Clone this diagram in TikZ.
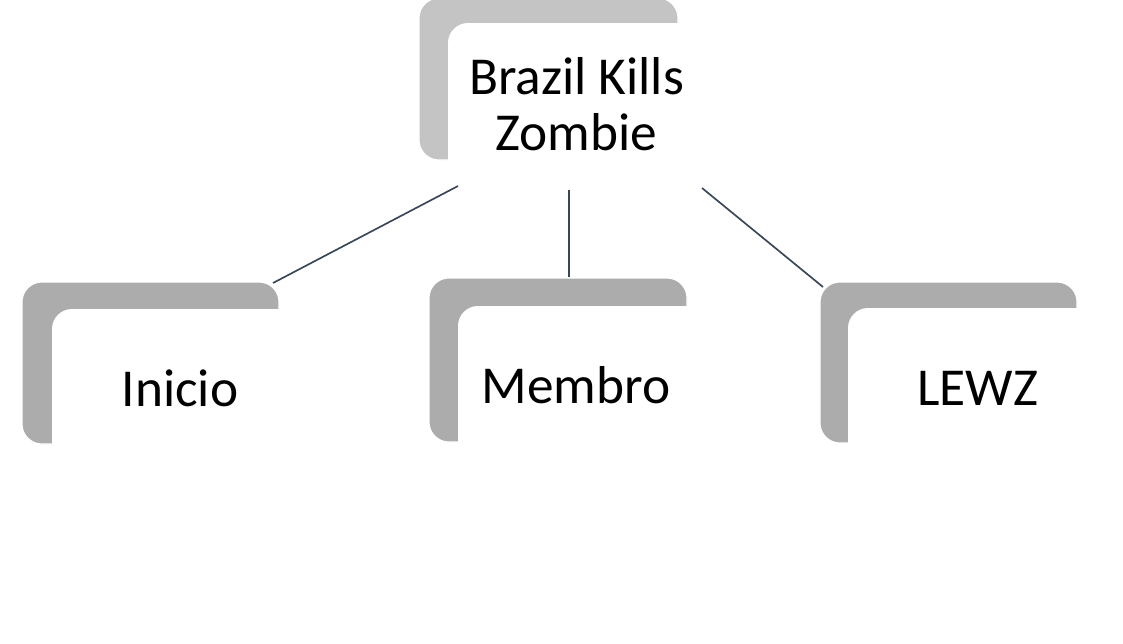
\documentclass[tikz,border=0pt]{standalone}
\usepackage{fontspec}
\setmainfont{Carlito}
\definecolor{linec}{HTML}{3A4658}
\definecolor{grayA}{HTML}{C4C4C4}
\definecolor{grayB}{HTML}{ACACAC}
\begin{document}
\begin{tikzpicture}[x=0.75pt,y=-0.75pt,
  backbox/.style={rectangle, rounded corners=15pt, draw=white, line width=0.8pt, inner sep=0pt, fill=grayB},
  frontbox/.style={rectangle, rounded corners=15pt, fill=white, inner sep=0pt},
  lbl/.style={font=\fontsize{40}{42}\selectfont, align=center, text=black},
  conn/.style={draw=linec, line width=1.25pt}
]
\useasboundingbox (0,0) rectangle (1123,643);
\fill[white] (0,0) rectangle (1123,643);
% top
\node[backbox, fill=grayA, minimum width=194.25pt, minimum height=121.5pt] (tg) at (548.5,79) {};
\node[frontbox, minimum width=192.75pt, minimum height=123pt] (tw) at (576.5,105) {};
\node[lbl] (tt) at (576.5,104) {Brazil Kills\\Zombie};
% left
\node[backbox, minimum width=192.75pt, minimum height=121.5pt] (lg) at (150.5,363) {};
\node[frontbox, minimum width=191.25pt, minimum height=120.75pt] (lw) at (179.5,389.5) {};
\node[lbl] (lt) at (180,388.5) {Inicio};
% middle
\node[backbox, minimum width=193.5pt, minimum height=123pt] (mg) at (558,360) {};
\node[frontbox, minimum width=193.5pt, minimum height=122.25pt] (mw) at (587,387.5) {};
\node[lbl] (mt) at (576,385) {Membro};
% right
\node[backbox, minimum width=192.75pt, minimum height=120.75pt] (rg) at (948.5,362.5) {};
\node[frontbox, minimum width=194.25pt, minimum height=121.5pt] (rw) at (977.5,389) {};
\node[lbl] (rt) at (978,388.5) {LEWZ};
% connectors
\coordinate (c1a) at (458,186);
\coordinate (c1b) at (273,283);
\coordinate (c2a) at (569,190);
\coordinate (c2b) at (569,277);
\coordinate (c3a) at (702,188);
\coordinate (c3b) at (823,287);
\draw[conn] (c1a) -- (c1b);
\draw[conn] (c2a) -- (c2b);
\draw[conn] (c3a) -- (c3b);
\end{tikzpicture}
\end{document}
